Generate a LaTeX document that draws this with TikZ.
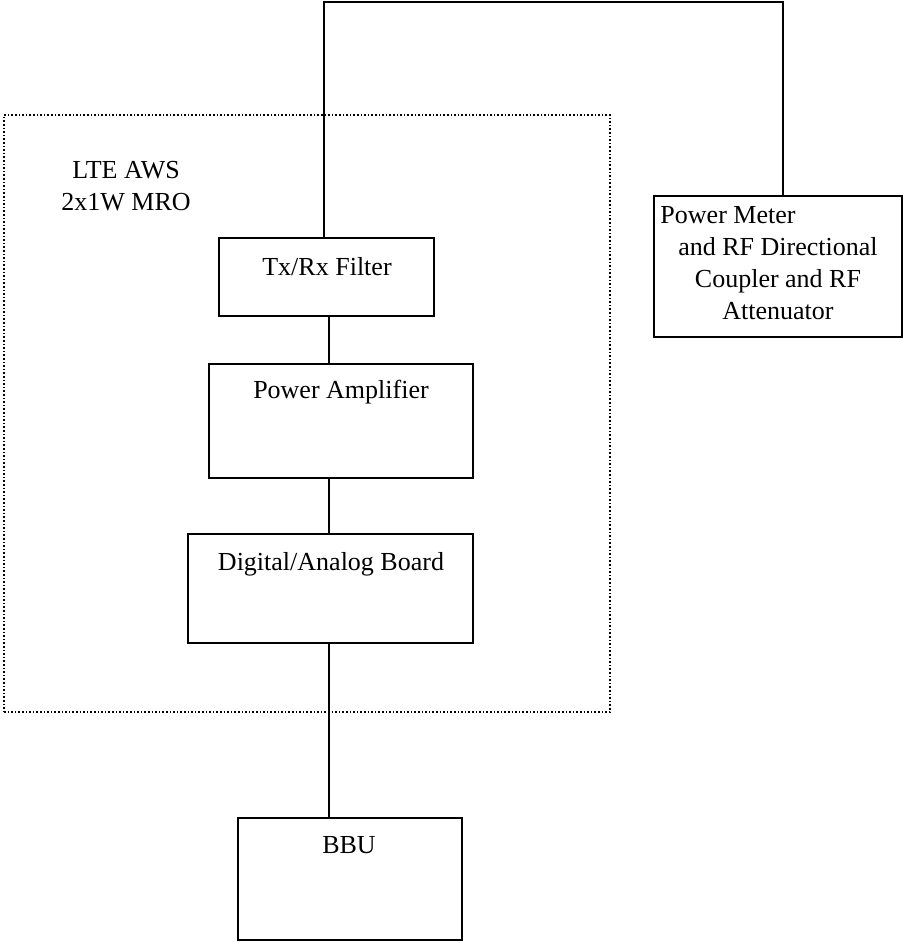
\documentclass[tikz,border=0pt]{standalone}
\usepackage{fontspec}
\setmainfont{Liberation Serif}
\usetikzlibrary{fit,positioning}

\tikzset{
  blk/.style={draw, line width=0.8pt, inner sep=0pt},
  grp/.style={draw, line width=0.8pt, densely dotted, inner sep=0pt},
  lbl/.style={inner sep=0pt, align=center, font=\fontsize{13}{16}\selectfont},
  wire/.style={line width=0.8pt}
}

\begin{document}
\begin{tikzpicture}[x=0.5pt, y=-0.5pt]
		\useasboundingbox (0,0) rectangle (903,943);

		% Define nodes
		\node[grp, fit={(4,115) (610,712)}] (mro) {};
		\node[lbl, anchor=north] (mrotxt) at (126,161) {LTE AWS\\2x1W MRO};

		\node[blk, fit={(219,238) (434,316)}] (txrx) {};
		\node[lbl, anchor=base] (txrxtxt) at (327,275) {Tx/Rx Filter};
		\node[blk, fit={(209,364) (473,478)}] (pa) {};
		\node[lbl, anchor=base] (patxt) at (341,398) {Power Amplifier};
		\node[blk, fit={(188,534) (473,643)}] (dab) {};
		\node[lbl, anchor=base] (dabtxt) at (331,570) {Digital/Analog Board};
		\node[blk, fit={(238,818) (462,940)}] (bbu) {};
		\node[lbl, anchor=base] (bbutxt) at (349,853) {BBU};

		\node[blk, fit={(654,196) (902,337)}] (pm) {};
		\node[lbl, anchor=north] (pmtxt) at (778,206)
			{Power Meter\hspace*{50pt}\\and RF Directional\\Coupler and RF\\Attenuator};

		\coordinate (tl) at (324,2);
		\coordinate (tr) at (783,2);
		\coordinate (spine) at (329,0);

		% Connect the nodes
		\draw[wire] (txrx.north -| tl) -- (tl) -- (tr) -- (pm.north -| tr);
		\draw[wire] (txrx.south -| spine) -- (pa.north -| spine);
		\draw[wire] (pa.south -| spine) -- (dab.north -| spine);
		\draw[wire] (dab.south -| spine) -- (bbu.north -| spine);
	\end{tikzpicture}
\end{document}
